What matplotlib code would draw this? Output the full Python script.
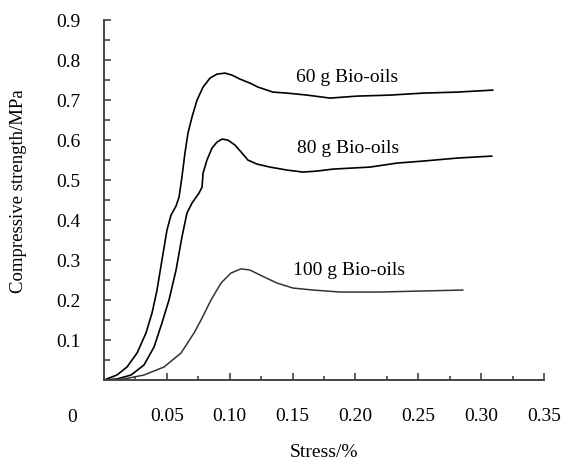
import matplotlib
matplotlib.use("Agg")
import matplotlib.pyplot as plt
from matplotlib.ticker import MultipleLocator, FormatStrFormatter

plt.rcParams['font.family'] = ['Liberation Serif', 'DejaVu Serif']

# stress (%) / compressive strength (MPa)
x_60 = [0, 0.0103, 0.0183, 0.0263, 0.0334, 0.0382, 0.0422, 0.0461, 0.0501, 0.0533,
        0.0573, 0.0597, 0.062, 0.0644, 0.0668, 0.070, 0.074, 0.0788, 0.0843,
        0.0899, 0.0963, 0.1018, 0.1082, 0.1161, 0.1225, 0.1344, 0.1456, 0.1615,
        0.1798, 0.2013, 0.2275, 0.2538, 0.2808, 0.3094]
y_60 = [0, 0.0125, 0.0325, 0.0675, 0.1175, 0.1675, 0.225, 0.30, 0.375, 0.4125,
        0.435, 0.4575, 0.5075, 0.5675, 0.6175, 0.6575, 0.70, 0.7325, 0.755,
        0.765, 0.7675, 0.7625, 0.7525, 0.7425, 0.7325, 0.72, 0.7175, 0.7125,
        0.705, 0.71, 0.7125, 0.7175, 0.72, 0.725]

x_80 = [0, 0.0103, 0.0215, 0.0318, 0.0398, 0.0461, 0.0517, 0.0573, 0.062, 0.066,
        0.070, 0.0756, 0.078, 0.0788, 0.0819, 0.0859, 0.0899, 0.0939, 0.0986,
        0.1042, 0.1098, 0.1145, 0.1217, 0.132, 0.1456, 0.1583, 0.1694, 0.1822,
        0.2116, 0.2331, 0.2538, 0.2808, 0.3086]
y_80 = [0, 0.0025, 0.0125, 0.0375, 0.0825, 0.1425, 0.20, 0.275, 0.3575, 0.4175,
        0.4425, 0.4675, 0.4825, 0.5175, 0.55, 0.58, 0.595, 0.6025, 0.60,
        0.5875, 0.5675, 0.55, 0.54, 0.5325, 0.525, 0.52, 0.5225, 0.5275,
        0.5325, 0.5425, 0.5475, 0.555, 0.56]

x_100 = [0, 0.0159, 0.0318, 0.0477, 0.0613, 0.0716, 0.0772, 0.0851, 0.0931,
         0.101, 0.109, 0.1161, 0.1241, 0.1376, 0.1503, 0.1663, 0.1877, 0.2196,
         0.2514, 0.2856]
y_100 = [0, 0.0025, 0.0125, 0.0325, 0.0675, 0.1175, 0.15, 0.20, 0.2425,
         0.2675, 0.278, 0.275, 0.2625, 0.2425, 0.23, 0.225, 0.22, 0.22,
         0.2225, 0.225]

labels = ["60 g Bio-oils", "80 g Bio-oils", "100 g Bio-oils"]
label_pos = [(0.1527, 0.7575), (0.1535, 0.58), (0.1504, 0.275)]

fig = plt.figure(figsize=(5.63, 4.68), dpi=100)
ax = fig.add_axes([0.1847, 0.188, 0.7816, 0.769])

line_kw = dict(solid_joinstyle='round', solid_capstyle='round')
ax.plot(x_60, y_60, color='black', linewidth=1.2, **line_kw)
ax.plot(x_80, y_80, color='black', linewidth=1.2, **line_kw)
ax.plot(x_100, y_100, color='#333333', linewidth=1.1, **line_kw)

for text, (tx, ty) in zip(labels, label_pos):
    ax.text(tx, ty, text, fontsize=14, ha='left', va='center')

ax.set_xlim(0, 0.35)
ax.set_ylim(0, 0.9)
ax.xaxis.set_major_locator(MultipleLocator(0.05))
ax.xaxis.set_minor_locator(MultipleLocator(0.025))
ax.yaxis.set_major_locator(MultipleLocator(0.1))
ax.yaxis.set_minor_locator(MultipleLocator(0.05))
ax.xaxis.set_major_formatter(FormatStrFormatter('%.2f'))
ax.yaxis.set_major_formatter(FormatStrFormatter('%.1f'))

# hide the labels at the origin; a single "0" is drawn below-left instead
fig.canvas.draw()
ax.set_xticks([t for t in ax.get_xticks() if 0.001 < t < 0.351])
ax.set_yticks([t for t in ax.get_yticks() if 0.001 < t < 0.901])
ax.annotate("0", xy=(0, 0), xytext=(-23, -27), textcoords='offset points',
            ha='center', va='center', fontsize=14)

ax.tick_params(which='both', direction='in', colors='#444444', labelcolor='black',
               labelsize=14)
ax.tick_params(axis='x', which='major', length=5, width=1.2, pad=20)
ax.tick_params(axis='x', which='minor', length=3, width=1.2)
ax.tick_params(axis='y', which='major', length=5, width=1.2, pad=17)
ax.tick_params(axis='y', which='minor', length=4, width=1.2)

for side in ['top', 'right']:
    ax.spines[side].set_visible(False)
for side in ['left', 'bottom']:
    ax.spines[side].set_color('#444444')
    ax.spines[side].set_linewidth(1.4)

ax.set_xlabel("Stress/%", fontsize=14, labelpad=14)
ax.set_ylabel("Compressive strength/MPa", fontsize=13.5)
ax.yaxis.set_label_coords(-0.175, 0.525)

fig.savefig("out.png", dpi=100)
